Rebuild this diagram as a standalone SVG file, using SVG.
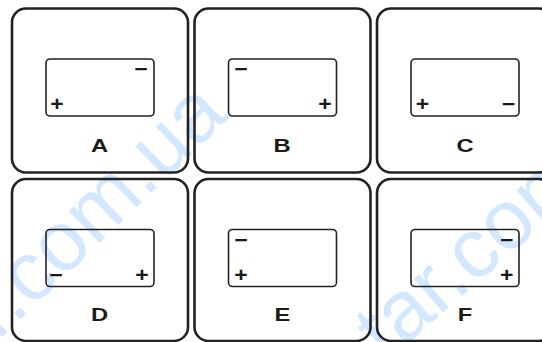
<svg xmlns="http://www.w3.org/2000/svg" width="542" height="342" viewBox="0 0 542 342">
<style>
.wm{font-family:"Liberation Sans",Arial,sans-serif;font-size:84px;fill:#d3e8ff}
.panel{fill:none;stroke:#222;stroke-width:2.6}
.bat{fill:none;stroke:#222;stroke-width:1.6}
.sign{font-family:"Liberation Sans",Arial,sans-serif;font-size:20px;font-weight:bold;fill:#1a1a1a;text-anchor:middle}
.lbl{font-family:"Liberation Sans",Arial,sans-serif;font-size:19px;font-weight:bold;fill:#1a1a1a;text-anchor:middle}
</style>
<rect width="542" height="342" fill="#fff"/>
<g id="watermark">
<text class="wm" transform="translate(-2,341) rotate(-44)">r.com.ua</text>
<text class="wm" transform="translate(386,362) rotate(-41)">tar.com</text>
</g>
<g id="connectors"/>
<g id="panelA">
<rect class="panel" x="12" y="8.5" width="176" height="164" rx="14"/>
<rect class="bat" x="46" y="59" width="108" height="57" rx="4"/>
<text class="sign" transform="translate(141,76) scale(1.15,1)">−</text>
<text class="sign" transform="translate(57,111) scale(1.15,1)">+</text>
<text class="lbl" transform="translate(99.5,152) scale(1.25,1)">A</text>
</g>
<g id="panelB">
<rect class="panel" x="194.5" y="8.5" width="176" height="164" rx="14"/>
<rect class="bat" x="228.5" y="59" width="108" height="57" rx="4"/>
<text class="sign" transform="translate(241,76) scale(1.15,1)">−</text>
<text class="sign" transform="translate(325,111) scale(1.15,1)">+</text>
<text class="lbl" transform="translate(282,152) scale(1.25,1)">B</text>
</g>
<g id="panelC">
<rect class="panel" x="377" y="8.5" width="176" height="164" rx="14"/>
<rect class="bat" x="411" y="59" width="108" height="57" rx="4"/>
<text class="sign" transform="translate(422.5,111) scale(1.15,1)">+</text>
<text class="sign" transform="translate(508.5,111) scale(1.15,1)">−</text>
<text class="lbl" transform="translate(465,152) scale(1.25,1)">C</text>
</g>
<g id="panelD">
<rect class="panel" x="12" y="179" width="176" height="162" rx="14"/>
<rect class="bat" x="46" y="229.5" width="108" height="57" rx="4"/>
<text class="sign" transform="translate(56,281.5) scale(1.15,1)">−</text>
<text class="sign" transform="translate(142,282) scale(1.15,1)">+</text>
<text class="lbl" transform="translate(99.5,321) scale(1.25,1)">D</text>
</g>
<g id="panelE">
<rect class="panel" x="194.5" y="179" width="176" height="162" rx="14"/>
<rect class="bat" x="228.5" y="229.5" width="108" height="57" rx="4"/>
<text class="sign" transform="translate(241,246.7) scale(1.15,1)">−</text>
<text class="sign" transform="translate(241,282) scale(1.15,1)">+</text>
<text class="lbl" transform="translate(282.5,321) scale(1.25,1)">E</text>
</g>
<g id="panelF">
<rect class="panel" x="377" y="179" width="176" height="162" rx="14"/>
<rect class="bat" x="411" y="229.5" width="108" height="57" rx="4"/>
<text class="sign" transform="translate(506.7,246.7) scale(1.15,1)">−</text>
<text class="sign" transform="translate(506.7,282) scale(1.15,1)">+</text>
<text class="lbl" transform="translate(465,321) scale(1.25,1)">F</text>
</g>
</svg>
